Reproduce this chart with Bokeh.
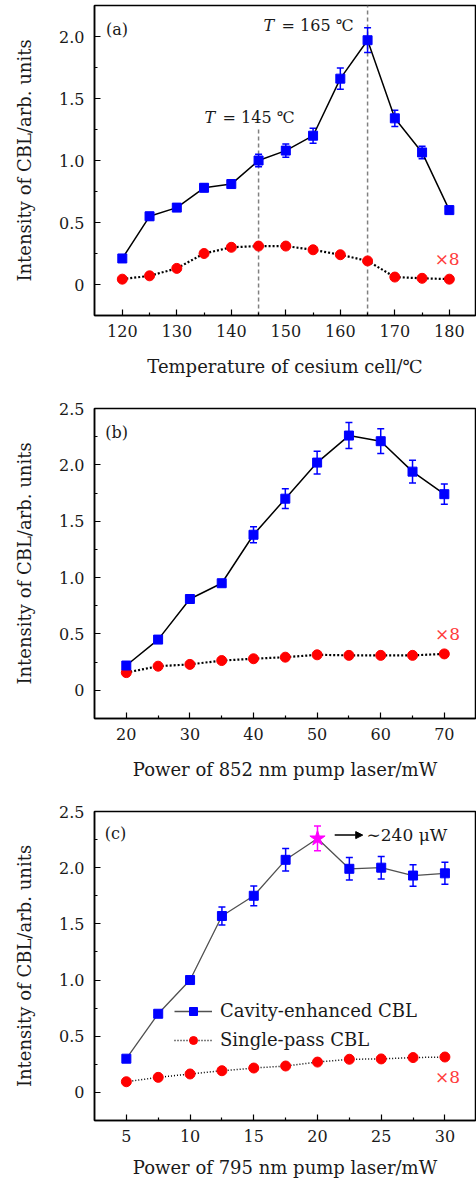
import numpy as np
from bokeh.plotting import figure
from bokeh.layouts import column
from bokeh.models import (ColumnDataSource, Whisker, TeeHead, FixedTicker,
                          CustomJSTickFormatter, Label, Arrow, NormalHead,
                          Legend, LegendItem, Range1d)
from bokeh.embed import file_html
from bokeh.resources import INLINE

# ---------------- data ----------------
# (a) temperature of cesium cell
temps = [120, 125, 130, 135, 140, 145, 150, 155, 160, 165, 170, 175, 180]
cav_a = [0.21, 0.55, 0.62, 0.78, 0.81, 1.00, 1.08, 1.20, 1.66, 1.97, 1.34, 1.065, 0.60]
cav_a_err = [0.03, 0.03, 0.03, 0.03, 0.03, 0.05, 0.054, 0.06, 0.085, 0.10, 0.065, 0.05, 0.03]
sp_a = [0.043, 0.07, 0.13, 0.25, 0.30, 0.31, 0.31, 0.28, 0.24, 0.19, 0.06, 0.05, 0.043]
marked_temps = [145, 165]
marked_tops = [1.25, 2.25]

# (b) power of 852 nm pump laser
power852 = [20, 25, 30, 35, 40, 45, 50, 55, 60, 65, 70]
cav_b = [0.22, 0.45, 0.81, 0.95, 1.38, 1.70, 2.02, 2.26, 2.21, 1.94, 1.74]
cav_b_err = [0.03, 0.03, 0.03, 0.03, 0.07, 0.087, 0.10, 0.115, 0.11, 0.10, 0.09]
sp_b = [0.157, 0.214, 0.23, 0.264, 0.28, 0.294, 0.315, 0.31, 0.31, 0.31, 0.323]

# (c) power of 795 nm pump laser
power795 = [5, 7.5, 10, 12.5, 15, 17.5, 20, 22.5, 25, 27.5, 30]
cav_c = [0.30, 0.70, 1.00, 1.57, 1.75, 2.07, 2.26, 1.99, 2.00, 1.93, 1.95]
cav_c_err = [0.02, 0.02, 0.03, 0.08, 0.088, 0.10, 0.11, 0.10, 0.10, 0.095, 0.098]
sp_c = [0.095, 0.134, 0.164, 0.193, 0.217, 0.235, 0.27, 0.295, 0.298, 0.31, 0.315]
star_power = 20

FONT = "DejaVu Serif"
BLUE = "#0000ff"
RED = "#ff0000"
XRED = "#ff3b3b"
TXT = "#1a1a1a"


def make_panel(x, cav, err, sp, xr, yr, xmajor, xminor, ymajor, yminor,
               xlabel, border_top, border_bottom, xlab_standoff, line_color, line_w,
               dot_w, dot_dash, square_mask=None):
    height = border_top + 310 + border_bottom
    p = figure(width=476, height=height, output_backend="svg",
               toolbar_location=None, x_range=Range1d(*xr), y_range=Range1d(*yr),
               min_border_left=94, min_border_right=1,
               min_border_top=border_top, min_border_bottom=border_bottom)
    p.grid.visible = False
    p.outline_line_color = "black"
    p.outline_line_width = 1.5
    p.outline_line_alpha = 1.0
    p.background_fill_color = "white"
    p.border_fill_color = "white"

    p.xaxis.ticker = FixedTicker(ticks=xmajor, minor_ticks=xminor)
    p.yaxis.ticker = FixedTicker(ticks=ymajor, minor_ticks=yminor)
    p.yaxis.formatter = CustomJSTickFormatter(
        code="return tick === 0 ? '0' : tick.toFixed(1);")
    for ax in (p.xaxis[0], p.yaxis[0]):
        ax.axis_line_width = 1.5
        ax.major_tick_in = 6
        ax.major_tick_out = 0
        ax.minor_tick_in = 3
        ax.minor_tick_out = 0
        ax.major_tick_line_width = 1.2
        ax.minor_tick_line_width = 1.2
        ax.major_label_text_font = FONT
        ax.major_label_text_font_size = "16px"
        ax.major_label_text_color = TXT
        ax.axis_label_text_font = FONT
        ax.axis_label_text_font_size = "18px"
        ax.axis_label_text_font_style = "normal"
        ax.axis_label_text_color = TXT
    p.xaxis.axis_label = xlabel
    p.xaxis.major_label_standoff = 9
    p.xaxis.axis_label_standoff = xlab_standoff
    p.yaxis.axis_label = "Intensity of CBL/arb. units"
    p.yaxis.major_label_standoff = 10
    p.yaxis.axis_label_standoff = 21

    upper = [v + e for v, e in zip(cav, err)]
    lower = [v - e for v, e in zip(cav, err)]
    if square_mask is None:
        square_mask = [True] * len(x)
    src_err = ColumnDataSource(dict(
        x=[a for a, m in zip(x, square_mask) if m],
        upper=[a for a, m in zip(upper, square_mask) if m],
        lower=[a for a, m in zip(lower, square_mask) if m]))

    sp_line = p.line(x, sp, line_color="black", line_width=dot_w, line_dash=dot_dash)
    sp_pts = p.scatter(x, sp, marker="circle", size=10, fill_color=RED,
                       line_color=RED)
    cav_line = p.line(x, cav, line_color=line_color, line_width=line_w)
    p.add_layout(Whisker(source=src_err, base="x", upper="upper", lower="lower",
                         line_color=BLUE, line_width=1.5,
                         upper_head=TeeHead(size=7, line_color=BLUE, line_width=1.5),
                         lower_head=TeeHead(size=7, line_color=BLUE, line_width=1.5)))
    cav_pts = p.scatter([a for a, m in zip(x, square_mask) if m],
                        [a for a, m in zip(cav, square_mask) if m],
                        marker="square", size=9, fill_color=BLUE, line_color=BLUE)
    return p, (cav_line, cav_pts, sp_line, sp_pts, upper, lower)


def xlabel8(p, x, y):
    p.add_layout(Label(x=x, y=y, text="×8", text_font=FONT, text_font_size="17px",
                       text_color=XRED, text_align="center", text_baseline="middle"))


def panel_tag(p, x, y, t):
    p.add_layout(Label(x=x, y=y, text=t, text_font=FONT, text_font_size="16px",
                       text_color=TXT, text_align="left", text_baseline="middle"))


def t_label(p, x, y, left_off, rest_off, rest):
    p.add_layout(Label(x=x, y=y, x_offset=left_off, text="T", text_font=FONT,
                       text_font_style="italic", text_font_size="16px", text_color=TXT,
                       text_align="left", text_baseline="middle"))
    p.add_layout(Label(x=x, y=y, x_offset=rest_off, text=rest, text_font=FONT,
                       text_font_size="16px", text_color=TXT,
                       text_align="left", text_baseline="middle"))


# ---------------- panel (a) ----------------
pa, _ = make_panel(temps, cav_a, cav_a_err, sp_a, (114.9, 184.8), (-0.25, 2.25),
                   [120, 130, 140, 150, 160, 170, 180], [125, 135, 145, 155, 165, 175],
                   [0, 0.5, 1.0, 1.5, 2.0], [0.25, 0.75, 1.25, 1.75],
                   "Temperature of cesium cell/℃", 5, 70, 16, "black", 1.5, 2.2, "2 2")
pa.segment(x0=marked_temps, y0=[-0.25] * len(marked_temps), x1=marked_temps,
           y1=marked_tops, line_color="#808080", line_width=1.5, line_dash="4 3",
           level="underlay")
t_label(pa, 145, 1.347, -54, -36, "= 145 ℃")
t_label(pa, 165, 2.086, -104, -86, "= 165 ℃")
xlabel8(pa, 179.6, 0.207)
panel_tag(pa, 117.0, 2.06, "(a)")

# ---------------- panel (b) ----------------
pb, _ = make_panel(power852, cav_b, cav_b_err, sp_b, (15.0, 74.9), (-0.25, 2.5),
                   [20, 30, 40, 50, 60, 70], [25, 35, 45, 55, 65],
                   [0, 0.5, 1.0, 1.5, 2.0, 2.5], [0.25, 0.75, 1.25, 1.75, 2.25],
                   "Power of 852 nm pump laser/mW", 23, 72, 16, "black", 1.5, 2.2, "2 2")
xlabel8(pb, 70.5, 0.50)
panel_tag(pb, 16.7, 2.29, "(b)")

# ---------------- panel (c) ----------------
mask = [v != star_power for v in power795]
pc, (cl, cp, sl, spp, up_c, lo_c) = make_panel(
    power795, cav_c, cav_c_err, sp_c, (2.5, 32.4), (-0.25, 2.5),
    [5, 10, 15, 20, 25, 30], [7.5, 12.5, 17.5, 22.5, 27.5],
    [0, 0.5, 1.0, 1.5, 2.0, 2.5], [0.25, 0.75, 1.25, 1.75, 2.25],
    "Power of 795 nm pump laser/mW", 21, 59, 12, "#505050", 1.3, 1.5, "1 2",
    square_mask=mask)
si = power795.index(star_power)
star_src = ColumnDataSource(dict(x=[star_power], y=[cav_c[si]],
                                 upper=[up_c[si]], lower=[lo_c[si]]))
pc.add_layout(Whisker(source=star_src, base="x", upper="upper", lower="lower",
                      line_color="#ff00ff", line_width=1.5,
                      upper_head=TeeHead(size=7, line_color="#ff00ff", line_width=1.5),
                      lower_head=TeeHead(size=7, line_color="#ff00ff", line_width=1.5)))
pc.scatter("x", "y", source=star_src, marker="star", size=16,
           fill_color="#ff00ff", line_color="#ff00ff")
pc.add_layout(Arrow(end=NormalHead(size=7, fill_color="black", line_color="black"),
                    x_start=21.35, y_start=2.29, x_end=23.55, y_end=2.29,
                    line_color="black", line_width=1.5))
pc.add_layout(Label(x=23.85, y=2.29, text="∼240 μW", text_font=FONT,
                    text_font_size="17px", text_color=TXT,
                    text_align="left", text_baseline="middle"))
xlabel8(pc, 30.2, 0.137)
panel_tag(pc, 3.3, 2.30, "(c)")

legend = Legend(items=[LegendItem(label="Cavity-enhanced CBL", renderers=[cl, cp]),
                       LegendItem(label="Single-pass CBL", renderers=[sl, spp])],
                location=(80, 70), border_line_color=None, background_fill_alpha=0,
                label_text_font=FONT, label_text_font_size="18px",
                label_text_color=TXT, glyph_width=38, glyph_height=20,
                label_height=20, spacing=8, padding=0, margin=0, label_standoff=8)
pc.add_layout(legend)

layout = column(pa, pb, pc, spacing=0)
open("out.html", "w").write(file_html(layout, INLINE))
